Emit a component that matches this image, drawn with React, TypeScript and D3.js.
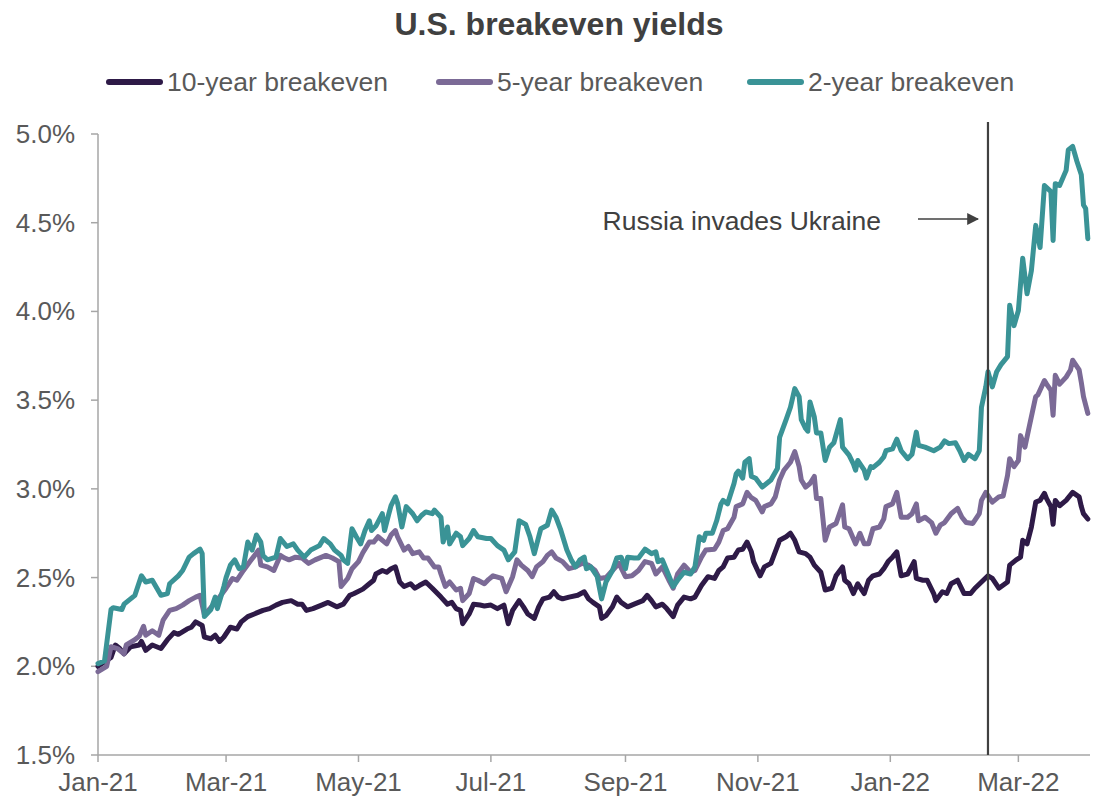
import React from "react";
import * as d3 from "d3";

// ---------- DATA (days since 2021-01-01, breakeven yield in %) ----------
const START_DATE = "2021-01-01";
const END_DATE = "2022-04-03";
const EVENT_DATE = "2022-02-15";
const EVENT_LABEL = "Russia invades Ukraine";
const TITLE = "U.S. breakeven yields";

const yTicks = [1.5, 2.0, 2.5, 3.0, 3.5, 4.0, 4.5, 5.0];
const seriesNames = ["10-year breakeven", "5-year breakeven", "2-year breakeven"];
const seriesColors = ["#2e1a47", "#7b6a96", "#3a9396"];

const tenYear: [number, number][] = [
  [0, 2.0], [6, 2.05], [8, 2.12], [10, 2.1], [12, 2.07], [15, 2.11], [19, 2.12], [20, 2.14],
  [22, 2.09], [25, 2.12], [27, 2.11], [29, 2.1], [32, 2.15], [35, 2.19], [37, 2.18], [41, 2.21],
  [43, 2.22], [45, 2.25], [48, 2.23], [49, 2.165], [52, 2.155], [54, 2.175], [56, 2.14], [58, 2.165],
  [61, 2.22], [64, 2.21], [66, 2.25], [69, 2.28], [72, 2.295], [74, 2.305], [76, 2.315], [79, 2.325],
  [82, 2.345], [85, 2.36], [89, 2.37], [92, 2.35], [94, 2.35], [96, 2.315], [99, 2.325], [103, 2.345],
  [106, 2.36], [110, 2.335], [113, 2.35], [116, 2.4], [118, 2.41], [122, 2.435], [125, 2.465], [127, 2.485],
  [128, 2.52], [131, 2.54], [133, 2.53], [135, 2.55], [137, 2.56], [139, 2.475], [141, 2.45], [144, 2.465],
  [146, 2.44], [148, 2.455], [151, 2.475], [154, 2.44], [158, 2.39], [161, 2.35], [163, 2.36], [165, 2.325],
  [167, 2.315], [168, 2.24], [171, 2.295], [173, 2.35], [176, 2.345], [178, 2.34], [181, 2.345], [184, 2.325],
  [187, 2.345], [189, 2.24], [191, 2.315], [194, 2.37], [196, 2.335], [198, 2.295], [201, 2.27], [203, 2.335],
  [205, 2.38], [208, 2.39], [210, 2.42], [212, 2.39], [214, 2.38], [217, 2.39], [221, 2.4], [224, 2.42],
  [226, 2.38], [228, 2.36], [231, 2.335], [232, 2.27], [234, 2.285], [237, 2.335], [239, 2.39], [241, 2.36],
  [244, 2.335], [247, 2.35], [251, 2.37], [253, 2.4], [255, 2.37], [257, 2.335], [260, 2.35], [262, 2.325],
  [265, 2.28], [267, 2.345], [270, 2.39], [273, 2.38], [275, 2.39], [278, 2.455], [281, 2.505], [284, 2.495],
  [286, 2.54], [288, 2.56], [290, 2.61], [293, 2.615], [295, 2.655], [297, 2.66], [299, 2.7], [301, 2.645],
  [302, 2.59], [305, 2.51], [307, 2.56], [310, 2.58], [312, 2.645], [314, 2.71], [317, 2.73], [319, 2.75],
  [321, 2.71], [323, 2.645], [326, 2.635], [328, 2.615], [330, 2.57], [333, 2.53], [335, 2.43], [338, 2.44],
  [340, 2.51], [343, 2.56], [344, 2.485], [346, 2.465], [348, 2.41], [350, 2.465], [353, 2.41], [355, 2.485],
  [357, 2.51], [360, 2.52], [362, 2.55], [364, 2.59], [366, 2.615], [368, 2.645], [370, 2.51], [373, 2.52],
  [376, 2.59], [377, 2.495], [380, 2.485], [382, 2.485], [385, 2.41], [386, 2.37], [389, 2.42], [391, 2.41],
  [393, 2.465], [396, 2.485], [399, 2.41], [402, 2.41], [404, 2.44], [407, 2.475], [410, 2.51], [412, 2.495],
  [415, 2.44], [419, 2.475], [420, 2.57], [423, 2.6], [425, 2.615], [426, 2.71], [428, 2.69], [430, 2.785],
  [432, 2.925], [434, 2.935], [436, 2.975], [437, 2.945], [439, 2.9], [440, 2.8], [441, 2.935], [443, 2.905],
  [446, 2.935], [449, 2.98], [452, 2.955], [453, 2.9], [454, 2.86], [456, 2.83],
];

const fiveYear: [number, number][] = [
  [0, 1.97], [4, 2.0], [6, 2.11], [9, 2.1], [12, 2.07], [13, 2.12], [17, 2.15], [19, 2.17],
  [21, 2.225], [22, 2.175], [25, 2.2], [28, 2.175], [30, 2.26], [33, 2.315], [36, 2.325], [39, 2.345],
  [42, 2.37], [45, 2.39], [47, 2.4], [49, 2.29], [53, 2.345], [56, 2.39], [59, 2.44], [62, 2.495],
  [64, 2.485], [67, 2.54], [70, 2.59], [74, 2.655], [75, 2.57], [78, 2.56], [81, 2.54], [84, 2.625],
  [86, 2.61], [88, 2.6], [91, 2.615], [94, 2.61], [97, 2.58], [100, 2.6], [105, 2.625], [108, 2.61],
  [111, 2.59], [112, 2.45], [115, 2.495], [117, 2.55], [120, 2.59], [122, 2.64], [125, 2.7], [127, 2.7],
  [129, 2.73], [133, 2.69], [135, 2.74], [137, 2.765], [138, 2.73], [141, 2.655], [143, 2.675], [145, 2.635],
  [148, 2.645], [150, 2.61], [152, 2.61], [155, 2.56], [157, 2.56], [158, 2.52], [160, 2.45], [162, 2.475],
  [165, 2.43], [167, 2.44], [168, 2.37], [171, 2.41], [173, 2.495], [175, 2.485], [178, 2.465], [180, 2.49],
  [182, 2.51], [186, 2.495], [188, 2.42], [191, 2.505], [193, 2.6], [195, 2.57], [198, 2.54], [200, 2.505],
  [202, 2.56], [205, 2.59], [207, 2.625], [209, 2.645], [211, 2.61], [214, 2.59], [217, 2.55], [220, 2.56],
  [223, 2.58], [226, 2.57], [229, 2.54], [231, 2.495], [234, 2.5], [237, 2.54], [240, 2.58], [243, 2.505],
  [246, 2.51], [249, 2.54], [252, 2.59], [255, 2.58], [257, 2.52], [260, 2.56], [263, 2.485], [265, 2.44],
  [267, 2.52], [270, 2.57], [273, 2.53], [275, 2.54], [278, 2.615], [280, 2.655], [284, 2.66], [286, 2.7],
  [288, 2.765], [290, 2.775], [293, 2.84], [294, 2.9], [297, 2.915], [299, 2.98], [301, 2.95], [303, 2.935],
  [306, 2.87], [307, 2.9], [310, 2.915], [312, 2.955], [314, 3.05], [316, 3.105], [319, 3.15], [321, 3.21],
  [323, 3.125], [324, 3.05], [326, 3.01], [328, 3.03], [330, 3.07], [331, 2.945], [333, 2.945], [335, 2.71],
  [337, 2.785], [340, 2.805], [343, 2.91], [344, 2.785], [346, 2.775], [349, 2.69], [351, 2.75], [353, 2.69],
  [355, 2.69], [357, 2.775], [360, 2.785], [362, 2.83], [363, 2.9], [366, 2.915], [368, 2.98], [370, 2.84],
  [373, 2.84], [375, 2.86], [377, 2.915], [378, 2.82], [381, 2.84], [384, 2.81], [386, 2.75], [388, 2.795],
  [390, 2.81], [393, 2.86], [396, 2.89], [398, 2.84], [400, 2.81], [403, 2.805], [406, 2.86], [407, 2.935],
  [409, 2.98], [412, 2.925], [415, 2.955], [417, 2.96], [419, 3.075], [420, 3.17], [422, 3.125], [424, 3.16],
  [425, 3.3], [427, 3.235], [429, 3.35], [432, 3.52], [433, 3.53], [436, 3.61], [437, 3.59], [439, 3.555],
  [440, 3.415], [441, 3.64], [443, 3.59], [446, 3.63], [448, 3.67], [449, 3.725], [452, 3.67], [453, 3.6],
  [454, 3.52], [456, 3.425],
];

const twoYear: [number, number][] = [
  [0, 2.015], [3, 2.03], [6, 2.32], [7, 2.33], [11, 2.32], [12, 2.35], [15, 2.38], [17, 2.4],
  [20, 2.51], [22, 2.475], [25, 2.485], [29, 2.4], [32, 2.41], [33, 2.465], [37, 2.51], [39, 2.54],
  [42, 2.615], [44, 2.635], [47, 2.66], [48, 2.635], [49, 2.28], [52, 2.32], [54, 2.39], [55, 2.325],
  [58, 2.45], [59, 2.5], [61, 2.57], [63, 2.6], [65, 2.55], [67, 2.56], [69, 2.7], [71, 2.655],
  [73, 2.74], [75, 2.7], [76, 2.625], [78, 2.6], [82, 2.615], [84, 2.72], [87, 2.675], [90, 2.69],
  [92, 2.655], [95, 2.615], [98, 2.655], [102, 2.68], [104, 2.72], [107, 2.69], [109, 2.655], [112, 2.625],
  [113, 2.6], [115, 2.58], [117, 2.775], [119, 2.73], [121, 2.69], [123, 2.765], [125, 2.82], [126, 2.765],
  [128, 2.79], [131, 2.86], [132, 2.765], [134, 2.86], [135, 2.905], [137, 2.955], [138, 2.92], [140, 2.785],
  [142, 2.9], [145, 2.86], [147, 2.82], [149, 2.85], [151, 2.87], [154, 2.86], [155, 2.88], [158, 2.84],
  [159, 2.7], [161, 2.785], [162, 2.69], [165, 2.75], [167, 2.73], [168, 2.68], [171, 2.72], [173, 2.765],
  [175, 2.73], [179, 2.72], [181, 2.72], [184, 2.68], [187, 2.655], [189, 2.6], [192, 2.645], [194, 2.82],
  [197, 2.8], [199, 2.73], [201, 2.635], [203, 2.73], [204, 2.775], [207, 2.795], [209, 2.88], [211, 2.84],
  [213, 2.775], [216, 2.655], [218, 2.6], [220, 2.56], [222, 2.6], [224, 2.615], [225, 2.55], [227, 2.56],
  [230, 2.505], [232, 2.38], [234, 2.475], [237, 2.54], [239, 2.61], [241, 2.615], [243, 2.55], [244, 2.615],
  [247, 2.61], [249, 2.61], [252, 2.66], [255, 2.635], [257, 2.645], [258, 2.59], [260, 2.6], [262, 2.54],
  [265, 2.45], [267, 2.485], [270, 2.53], [273, 2.52], [275, 2.56], [277, 2.73], [279, 2.71], [280, 2.75],
  [283, 2.75], [285, 2.82], [287, 2.915], [288, 2.935], [290, 2.915], [293, 3.03], [294, 3.085], [295, 3.1],
  [297, 3.06], [298, 3.15], [300, 3.17], [301, 3.07], [303, 3.06], [306, 3.01], [310, 3.05], [313, 3.115],
  [314, 3.29], [317, 3.39], [319, 3.46], [321, 3.565], [323, 3.52], [324, 3.39], [326, 3.34], [327, 3.325],
  [328, 3.49], [330, 3.405], [331, 3.315], [333, 3.315], [335, 3.16], [337, 3.235], [339, 3.26], [342, 3.39],
  [343, 3.235], [346, 3.19], [348, 3.14], [349, 3.105], [350, 3.16], [353, 3.105], [354, 3.06], [356, 3.125],
  [357, 3.12], [360, 3.15], [362, 3.18], [363, 3.215], [366, 3.225], [368, 3.28], [370, 3.215], [373, 3.17],
  [375, 3.195], [377, 3.32], [378, 3.245], [381, 3.235], [385, 3.215], [388, 3.235], [390, 3.27], [392, 3.255],
  [395, 3.26], [397, 3.215], [399, 3.16], [401, 3.195], [404, 3.17], [406, 3.215], [407, 3.46], [409, 3.575],
  [410, 3.66], [412, 3.575], [414, 3.66], [416, 3.7], [419, 3.745], [420, 4.035], [422, 3.92], [424, 4.005],
  [426, 4.3], [428, 4.1], [430, 4.23], [432, 4.485], [434, 4.36], [436, 4.71], [439, 4.675], [440, 4.4],
  [441, 4.72], [443, 4.71], [446, 4.795], [447, 4.91], [449, 4.93], [451, 4.845], [453, 4.77], [454, 4.6],
  [455, 4.58], [456, 4.41],
];

const allSeries = [tenYear, fiveYear, twoYear];

// ---------- LAYOUT ----------
const W = 1093;
const H = 801;
const M = { left: 98, right: 1090, top: 134, bottom: 755 };
const FONT = "'Liberation Sans', Arial, sans-serif";
const TEXT_COLOR = "#595959";
const AXIS_COLOR = "#a6a6a6";
const legendX = [107, 437, 748];

export default function App() {
  const parse = d3.utcParse("%Y-%m-%d");
  const start = parse(START_DATE)!;
  const end = parse(END_DATE)!;
  const eventDate = parse(EVENT_DATE)!;

  const x = d3.scaleUtc().domain([start, end]).range([M.left, M.right]);
  const y = d3.scaleLinear().domain([1.5, 5.0]).range([M.bottom, M.top]);

  const toDate = (d: number) => d3.utcDay.offset(start, d);
  const line = d3
    .line<[number, number]>()
    .x((d) => x(toDate(d[0])))
    .y((d) => y(d[1]));

  const xTicks = d3.utcMonth.every(2)!.range(start, end);
  const fmtX = d3.utcFormat("%b-%y");
  const fmtY = (v: number) => v.toFixed(1) + "%";

  const ex = x(eventDate);

  return (
    <svg
      width={W}
      height={H}
      style={{ position: "absolute", left: 0, top: 0, background: "#fff" }}
      fontFamily={FONT}
    >
      <rect width={W} height={H} fill="#fff" />
      <text x={559} y={35} textAnchor="middle" fontSize={32} fontWeight="bold" fill="#404040">
        {TITLE}
      </text>

      {/* legend */}
      {seriesNames.map((name, i) => (
        <g key={name}>
          <line
            x1={legendX[i] + 2}
            x2={legendX[i] + 53}
            y1={82}
            y2={82}
            stroke={seriesColors[i]}
            strokeWidth={6}
            strokeLinecap="round"
          />
          <text x={legendX[i] + 60} y={91} fontSize={26.5} fill={TEXT_COLOR}>
            {name}
          </text>
        </g>
      ))}

      {/* axes */}
      <line x1={M.left} x2={M.left} y1={M.top} y2={M.bottom} stroke={AXIS_COLOR} strokeWidth={1.5} />
      <line x1={M.left} x2={M.right} y1={M.bottom} y2={M.bottom} stroke={AXIS_COLOR} strokeWidth={1.5} />
      {yTicks.map((t) => (
        <g key={t}>
          <line x1={M.left - 7} x2={M.left} y1={y(t)} y2={y(t)} stroke={AXIS_COLOR} strokeWidth={1.5} />
          <text x={75} y={y(t) + 9} textAnchor="end" fontSize={26} fill={TEXT_COLOR}>
            {fmtY(t)}
          </text>
        </g>
      ))}
      {xTicks.map((t) => (
        <g key={t.toISOString()}>
          <line x1={x(t)} x2={x(t)} y1={M.bottom} y2={M.bottom + 7} stroke={AXIS_COLOR} strokeWidth={1.5} />
          <text x={x(t)} y={791} textAnchor="middle" fontSize={26} fill={TEXT_COLOR}>
            {fmtX(t)}
          </text>
        </g>
      ))}

      {/* series */}
      {allSeries.map((s, i) => (
        <path
          key={i}
          d={line(s) || ""}
          fill="none"
          stroke={seriesColors[i]}
          strokeWidth={5}
          strokeLinejoin="round"
          strokeLinecap="round"
        />
      ))}

      {/* event annotation */}
      <line x1={ex} x2={ex} y1={122} y2={M.bottom} stroke="#404040" strokeWidth={2.2} />
      <defs>
        <marker id="arrow" viewBox="0 0 10 10" refX="9" refY="5" markerWidth="8" markerHeight="8" orient="auto">
          <path d="M0,0 L10,5 L0,10 z" fill="#404040" />
        </marker>
      </defs>
      <line x1={918} x2={978} y1={219} y2={219} stroke="#404040" strokeWidth={1.5} markerEnd="url(#arrow)" />
      <text x={881} y={230} textAnchor="end" fontSize={26.5} fill="#404040">
        {EVENT_LABEL}
      </text>
    </svg>
  );
}
